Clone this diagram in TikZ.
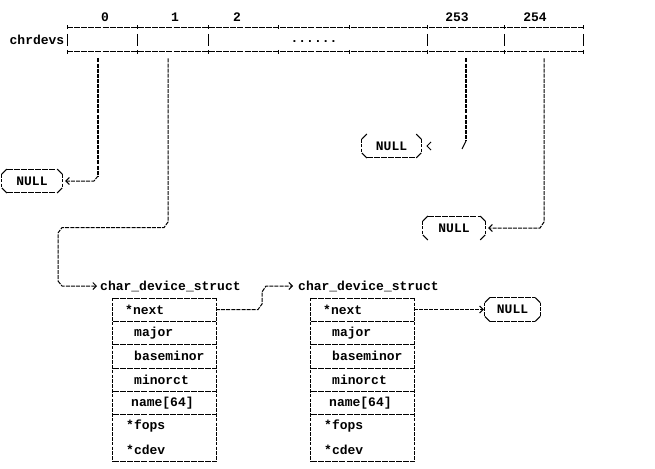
\documentclass[tikz,border=0pt]{standalone}
\usepackage{fontspec}
\setmonofont{Liberation Mono}
\usetikzlibrary{arrows.meta,calc}
\tikzset{
  txt/.style={font=\ttfamily\bfseries\fontsize{13}{14}\selectfont, inner sep=0pt},
  hl/.style={line width=1pt, dash pattern=on 6pt off 1.1pt},
  vl/.style={line width=1pt, dash pattern=on 3.5pt off 1.3pt},
  solidl/.style={line width=1pt},
  ascii/.style={line width=1pt, dash pattern=on 4pt off 1.1pt},
  tip/.style={-{Straight Barb[length=3.5pt,width=7pt,line width=1pt]}},
  cell/.style={minimum height=24.5pt, inner sep=0pt},
  nullbox/.style={txt, minimum height=23.5pt, inner sep=0pt},
}
\newcommand\nbox[3]{%
 \draw[solidl] ($(#1.north west)+(0,5)$) -- ($(#1.north west)+(5,0)$);
 \draw[solidl] ($(#1.north east)+(-5,0)$) -- ($(#1.north east)+(0,5)$);
 \draw[solidl] ($(#1.south west)+(0,-5)$) -- ($(#1.south west)+(5,0)$);
 \draw[solidl] ($(#1.south east)+(-5,0)$) -- ($(#1.south east)+(0,-5)$);
 \draw[vl] ($(#1.north west)+(0,5)$) -- ($(#1.south west)+(0,-5)$);
 \draw[vl] ($(#1.north east)+(0,5)$) -- ($(#1.south east)+(0,-5)$);
 \ifnum#2=1 \draw[hl] ($(#1.north west)+(5,0)$) -- ($(#1.north east)+(-5,0)$);\fi
 \ifnum#3=1 \draw[hl] ($(#1.south west)+(5,0)$) -- ($(#1.south east)+(-5,0)$);\fi
}
\newcommand\chardev[2]{%
 \begin{scope}[xshift=#2pt]
  \node[txt, anchor=west] (#1t) at (100,286) {char\_device\_struct};
  \node[minimum width=103pt, minimum height=164pt, inner sep=0pt] (#1) at (164.5,380) {};
  \foreach \yy in {298,321,344.6,368,391.4,414.8,461.6}
    \draw[hl] (113,\yy) -- (216,\yy);
  \draw[vl] (#1.north west) -- (#1.south west);
  \draw[vl] (#1.north east) -- (#1.south east);
  \node[txt, anchor=west] (#1next) at (125,309.5) {*next};
  \node[txt, anchor=west] at (134,333) {major};
  \node[txt, anchor=west] at (134,356.3) {baseminor};
  \node[txt, anchor=west] at (134,379.7) {minorct};
  \node[txt, anchor=west] at (131,403) {name[64]};
  \node[txt, anchor=west] at (126,426.5) {*fops};
  \node[txt, anchor=west] at (126,450) {*cdev};
 \end{scope}
}
\begin{document}
\begin{tikzpicture}[x=1pt,y=-1pt]
\useasboundingbox (0,0) rectangle (655,468);
\fill[white] (0,0) rectangle (655,468);

% array
\node[txt] (chr) at (37,40) {chrdevs};
\node[cell, minimum width=70pt] (c0) at (102,40) {};
\node[cell, minimum width=71pt] (c1) at (172.5,40) {};
\node[cell, minimum width=70pt] (c2) at (243,40) {};
\node[txt] (dots) at (314,42) {......};
\node[cell, minimum width=77pt] (c253) at (465.5,40) {};
\node[cell, minimum width=79pt] (c254) at (543.5,40) {};
\node[txt] (l0) at (105,17) {0};
\node[txt] (l1) at (175,17) {1};
\node[txt] (l2) at (237,17) {2};
\node[txt] (l253) at (457,17) {253};
\node[txt] (l254) at (535,17) {254};
\draw[hl] (67,27.5) -- (583,27.5);
\draw[hl] (67,52) -- (583,52);
\foreach \xx in {67,137,208,278,349,427,504,583} {
  \draw[solidl] (\xx,25.5) -- (\xx,29.5);
  \draw[solidl] (\xx,50) -- (\xx,54);
}
\foreach \xx in {67,137,208,427,504,583}
  \draw[solidl] (\xx,34) -- (\xx,46);

% NULL boxes
\node[nullbox, minimum width=60pt] (n0) at (32,181) {NULL};
\node[nullbox, minimum width=59pt] (n253) at (391.5,146) {NULL};
\node[nullbox, minimum width=62pt] (n254) at (454,228) {NULL};
\node[nullbox, minimum width=55pt] (nend) at (512.5,309.5) {NULL};
\nbox{n0}{1}{1}
\nbox{n253}{0}{1}
\nbox{n254}{1}{0}
\nbox{nend}{1}{1}

% structs
\chardev{s1}{0}
\chardev{s2}{198}

% connectors
\draw[ascii, line width=1.4pt] ([xshift=-4pt,yshift=-6pt]c0.south) -- (98,176);
\draw[ascii, tip] (98,176) -- (94,181) -- ([xshift=3pt]n0.east);
\draw[ascii] ([xshift=-4.5pt,yshift=-6pt]c1.south) -- (168,222) -- (164,227.6)
  -- (62,227.6) -- (58,233) -- (58,281);
\draw[ascii, tip] (58,281) -- (62,286) -- ([xshift=-3pt]s1t.west);
\draw[ascii, line width=1.4pt] ([xshift=0.5pt,yshift=-6pt]c253.south) -- (466,141);
\draw[solidl] (466,141) -- (462,149);
\draw[solidl] (431,142) -- (427,146) -- (431,150);
\draw[ascii, tip] ([xshift=0.5pt,yshift=-6pt]c254.south) -- (544,222) -- (540,228) -- ([xshift=3pt]n254.east);
\draw[ascii, tip] (216,309.5) -- (258,309.5) -- (262,304) -- (262,292) -- (266,286)
  -- ([xshift=-5pt]s2t.west);
\draw[ascii, tip] (414,309.5) -- ([xshift=-1pt]nend.west);
\end{tikzpicture}
\end{document}
